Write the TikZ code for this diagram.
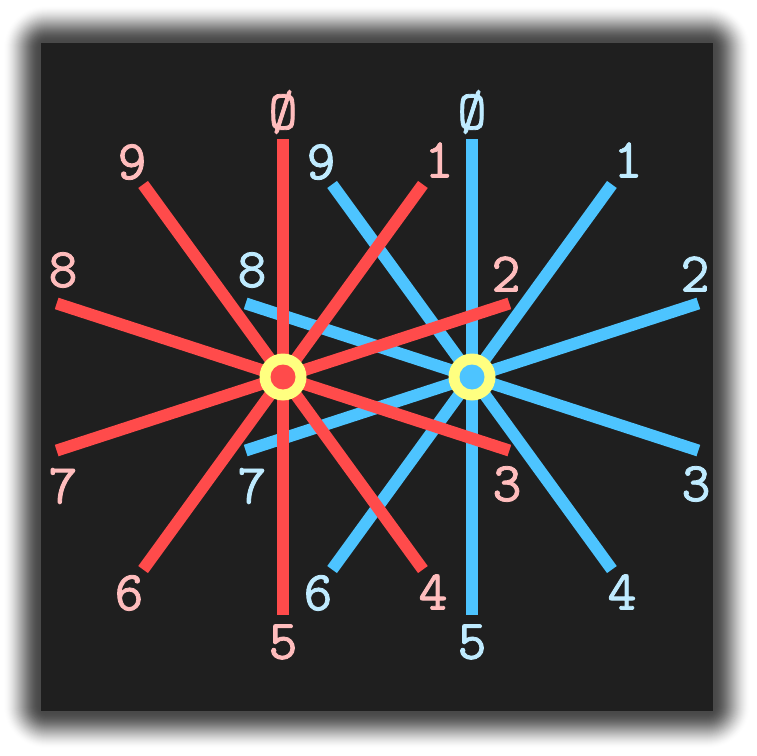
\documentclass[tikz,border=0pt]{standalone}
\usepackage{fontspec}
\usetikzlibrary{calc}
\newfontfamily\labfont[FakeBold=1.5]{Latin Modern Mono}
\definecolor{bgdark}{HTML}{1F1F1F}
\definecolor{redline}{HTML}{FF4B4B}
\definecolor{blueline}{HTML}{4DC4FF}
\definecolor{ringyellow}{HTML}{FFFF80}
\definecolor{redtext}{HTML}{FFBDBD}
\definecolor{bluetext}{HTML}{BFEBFF}
\begin{document}
\begin{tikzpicture}[x=0.75pt,y=-0.75pt,
  spoke/.style={line width=9pt,line cap=butt},
  ringouter/.style={circle,fill=ringyellow,inner sep=0pt,minimum size=35.25pt},
  ringinner/.style={circle,inner sep=0pt,minimum size=18.75pt},
  numlabel/.style={inner sep=0pt,font=\fontsize{42}{42}\selectfont\labfont}]
\useasboundingbox (0,0) rectangle (757,756);
% blurred shadow: smooth darkness profile D(d)=0.72*(1-smoothstep(d/38))
\foreach \i in {38,37,...,1}{
  \pgfmathsetmacro\xa{(\i-1)/38}
  \pgfmathsetmacro\xb{\i/38}
  \pgfmathsetmacro\Da{0.72*(1-(3*\xa*\xa-2*\xa*\xa*\xa))}
  \pgfmathsetmacro\Db{0.72*(1-(3*\xb*\xb-2*\xb*\xb*\xb))}
  \pgfmathsetmacro\al{1-(1-\Da)/(1-\Db)}
  \pgfmathsetmacro\rr{\i*0.75+4}
  \fill[black,opacity=\al,rounded corners=\rr pt] (41-\i,43-\i) rectangle (713+\i,711+\i);
}
\fill[bgdark] (41,43) rectangle (713,711);
% centres
\coordinate (bc) at (472,377);
\coordinate (rc) at (283,377);
% blue star
\foreach \k/\lx/\ly/\t in {0/0/-265/Ø,1/156/-217/1,2/223/-103/2,3/224/107/3,4/150/215/4,5/0/265/5,6/-154/216/6,7/-220/109/7,8/-220/-107/8,9/-151/-215/9}{
  \pgfmathsetmacro\ang{36*\k-90}
  \coordinate (b\k) at ($(bc)+(\ang:238)$);
  \draw[spoke,blueline] (bc) -- (b\k);
  \node[numlabel,text=bluetext] (bl\k) at ($(bc)+(\lx,\ly)$) {\t};
}
\node[ringouter] (bring) at (bc) {};
\node[ringinner,fill=blueline] (bdot) at (bc) {};
% red star
\foreach \k/\lx/\ly/\t in {0/0/-265/Ø,1/156/-217/1,2/223/-103/2,3/224/107/3,4/150/215/4,5/0/265/5,6/-154/216/6,7/-220/109/7,8/-220/-107/8,9/-151/-215/9}{
  \pgfmathsetmacro\ang{36*\k-90}
  \coordinate (r\k) at ($(rc)+(\ang:238)$);
  \draw[spoke,redline] (rc) -- (r\k);
  \node[numlabel,text=redtext] (rl\k) at ($(rc)+(\lx,\ly)$) {\t};
}
\node[ringouter] (rring) at (rc) {};
\node[ringinner,fill=redline] (rdot) at (rc) {};
\end{tikzpicture}
\end{document}
